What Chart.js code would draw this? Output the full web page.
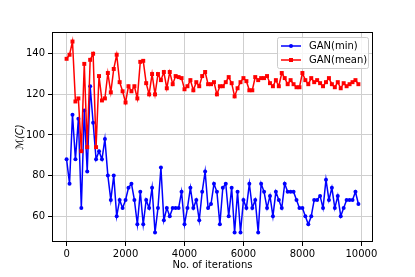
<!DOCTYPE html>
<html>
<head>
<meta charset="utf-8">
<script src="https://cdn.jsdelivr.net/npm/chart.js@4.4.0/dist/chart.umd.min.js"></script>
<style>
  body { margin: 0; background: #fff; }
</style>
</head>
<body>
<canvas id="ganChart" width="415" height="277"></canvas>
<script>
const iterations = [0, 100, 200, 300, 400, 500, 600, 700, 800, 900,
    1000, 1100, 1200, 1300, 1400, 1500, 1600, 1700, 1800, 1900,
    2000, 2100, 2200, 2300, 2400, 2500, 2600, 2700, 2800, 2900,
    3000, 3100, 3200, 3300, 3400, 3500, 3600, 3700, 3800, 3900,
    4000, 4100, 4200, 4300, 4400, 4500, 4600, 4700, 4800, 4900,
    5000, 5100, 5200, 5300, 5400, 5500, 5600, 5700, 5800, 5900,
    6000, 6100, 6200, 6300, 6400, 6500, 6600, 6700, 6800, 6900,
    7000, 7100, 7200, 7300, 7400, 7500, 7600, 7700, 7800, 7900,
    8000, 8100, 8200, 8300, 8400, 8500, 8600, 8700, 8800, 8900,
    9000, 9100, 9200, 9300, 9400, 9500, 9600, 9700, 9800, 9900];

const ganMin = [88, 76, 110, 88, 108, 64, 112, 82, 124, 106,
    88, 92, 88, 98, 80, 68, 80, 60, 68, 64,
    68, 74, 76, 68, 56, 72, 56, 68, 64, 74,
    52, 64, 84, 58, 64, 60, 64, 64, 64, 72,
    56, 64, 74, 64, 68, 58, 72, 82, 64, 66,
    76, 72, 56, 74, 76, 60, 74, 52, 72, 52,
    68, 64, 76, 64, 68, 52, 76, 72, 64, 70,
    60, 72, 68, 64, 76, 72, 72, 72, 68, 64,
    64, 60, 56, 60, 68, 68, 70, 64, 78, 68,
    74, 64, 70, 60, 64, 68, 68, 68, 72, 66];

const ganMean = [137.5, 139.5, 146, 116.5, 118, 92, 135, 94, 137, 140,
    94, 129, 117, 118, 130.5, 121, 132.5, 139.5, 126, 121.5,
    116, 124, 121.5, 124, 118, 136, 136.5, 125.5, 120, 130,
    120, 130, 127, 131, 123, 131, 125, 129, 128.5, 128,
    122.5, 124, 127, 122, 126, 124, 129, 131, 125, 125,
    126, 120, 124, 124, 126, 128.5, 125.5, 119, 123, 126,
    128, 126.5, 122, 122, 128.5, 127, 128, 128, 129, 125.5,
    124, 127, 124, 130.5, 128, 125, 127, 125, 123.5, 123.5,
    130.5, 127, 125, 128, 126, 127, 125.5, 124, 126, 128,
    125, 123.5, 126, 123, 125.5, 124, 125, 126, 127, 125];

const xTicks = [0, 2000, 4000, 6000, 8000, 10000];
const yTicks = [60, 80, 100, 120, 140];

const FONT = "'DejaVu Sans', sans-serif";

// spines on all four sides, like matplotlib
const spines = {
    id: "spines",
    afterDraw(chart) {
        const { ctx, chartArea: a } = chart;
        ctx.save();
        ctx.strokeStyle = "#000";
        ctx.lineWidth = 1;
        ctx.strokeRect(a.left + 0.5, a.top + 0.5, a.right - a.left - 1, a.bottom - a.top - 1);
        ctx.restore();
    },
};

// legend inside the axes, top right, line + marker
const innerLegend = {
    id: "innerLegend",
    afterDraw(chart) {
        const { ctx, chartArea: a } = chart;
        const w = 91, h = 31;
        const x0 = a.right - 5 - w, y0 = a.top + 5;
        ctx.save();
        ctx.fillStyle = "rgba(255,255,255,0.8)";
        ctx.strokeStyle = "#cccccc";
        ctx.lineWidth = 1;
        ctx.beginPath();
        ctx.roundRect(x0 + 0.5, y0 + 0.5, w, h, 2);
        ctx.fill();
        ctx.stroke();
        chart.data.datasets.forEach((ds, i) => {
            const y = y0 + 9 + i * 14;
            ctx.strokeStyle = ds.borderColor;
            ctx.lineWidth = ds.borderWidth;
            ctx.beginPath();
            ctx.moveTo(x0 + 4, y);
            ctx.lineTo(x0 + 24, y);
            ctx.stroke();
            ctx.fillStyle = ds.borderColor;
            if (ds.pointStyle === "rect") {
                ctx.fillRect(x0 + 12, y - 2, 4, 4);
            } else {
                ctx.beginPath();
                ctx.arc(x0 + 14, y, 2, 0, Math.PI * 2);
                ctx.fill();
            }
            ctx.fillStyle = "#000";
            ctx.font = "10px " + FONT;
            ctx.textBaseline = "middle";
            ctx.fillText(ds.label, x0 + 32, y + 0.5);
        });
        ctx.restore();
    },
};

let ganCtx = document.getElementById("ganChart").getContext("2d");
let ganChart = new Chart(ganCtx, {
    type: "line",
    data: {
        labels: iterations,
        datasets: [
            {
                label: "GAN(min)",
                data: ganMin,
                borderColor: "#0000ff",
                backgroundColor: "#0000ff",
                borderWidth: 1.5,
                pointStyle: "circle",
                pointRadius: 2,
                pointBorderWidth: 0,
                order: 1,
            },
            {
                label: "GAN(mean)",
                data: ganMean,
                borderColor: "#ff0000",
                backgroundColor: "#ff0000",
                borderWidth: 1.5,
                pointStyle: "rect",
                pointRadius: 2.8,
                pointBorderWidth: 0,
                order: 0,
            },
        ],
    },
    options: {
        responsive: false,
        animation: false,
        layout: {
            padding: { left: 0, right: 42, top: 32, bottom: 0 },
        },
        plugins: {
            legend: { display: false },
            tooltip: { enabled: false },
        },
        elements: {
            line: { tension: 0 },
        },
        scales: {
            x: {
                type: "linear",
                min: -495,
                max: 10395,
                afterBuildTicks: (scale) => {
                    scale.ticks = xTicks.map((v) => ({ value: v }));
                },
                afterFit: (scale) => {
                    scale.height = 35;
                },
                grid: {
                    color: "#cfcfcf",
                    tickColor: "#000",
                    tickLength: 4,
                },
                border: { display: false },
                ticks: {
                    color: "#000",
                    font: { family: FONT, size: 10 },
                    padding: 2,
                    maxRotation: 0,
                    callback: (v) => String(v),
                },
                title: {
                    display: true,
                    text: "No. of iterations",
                    color: "#000",
                    font: { family: FONT, size: 10 },
                    padding: { top: 0, bottom: 6 },
                },
            },
            y: {
                min: 47.3,
                max: 150.7,
                afterBuildTicks: (scale) => {
                    scale.ticks = yTicks.map((v) => ({ value: v }));
                },
                afterFit: (scale) => {
                    scale.width = 52;
                },
                grid: {
                    color: "#cfcfcf",
                    tickColor: "#000",
                    tickLength: 4,
                },
                border: { display: false },
                ticks: {
                    color: "#000",
                    font: { family: FONT, size: 10 },
                    padding: 3,
                    callback: (v) => String(v),
                },
                title: {
                    display: true,
                    text: "ℳ(C)",
                    color: "#000",
                    font: { family: FONT, size: 10, style: "italic" },
                    padding: { top: 14, bottom: 0 },
                },
            },
        },
    },
    plugins: [spines, innerLegend],
});
</script>
</body>
</html>
